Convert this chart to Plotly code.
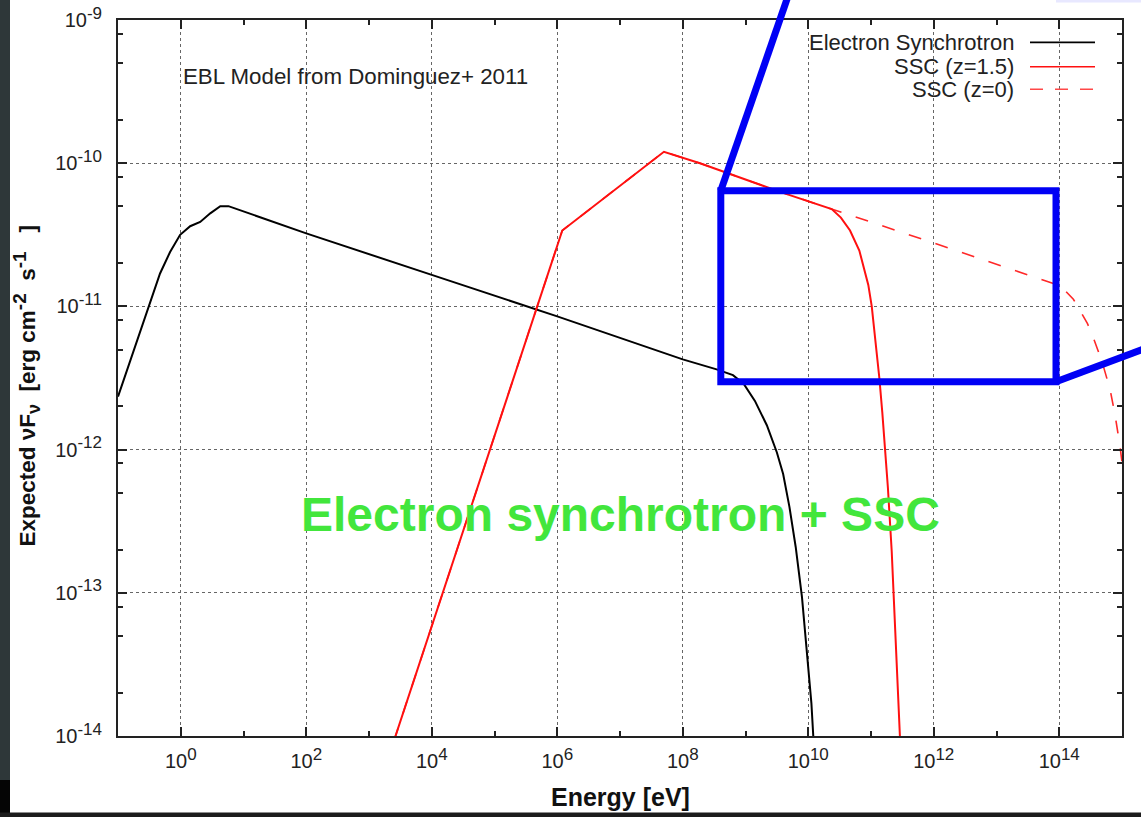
import plotly.graph_objects as go

# ---- data: log10(E / eV) and log10(nuF_nu / erg cm^-2 s^-1) ----
sync_log_e = [-1.0, -0.78, -0.60, -0.46, -0.33, -0.17, -0.01, 0.15, 0.31, 0.47,
              0.63, 0.76, 2.0, 4.0, 6.0, 8.0, 8.54, 8.80, 8.97, 9.15, 9.34, 9.50,
              9.60, 9.70, 9.80, 9.90, 9.98, 10.05, 10.08, 10.10]
sync_log_f = [-11.63, -11.35, -11.12, -10.93, -10.77, -10.62, -10.50, -10.44, -10.41, -10.35,
              -10.30, -10.30, -10.49, -10.78, -11.07, -11.37, -11.44, -11.48, -11.54, -11.66,
              -11.83, -12.02, -12.17, -12.40, -12.68, -13.03, -13.40, -13.77, -14.00, -14.18]

ssc15_log_e = [3.40, 4.0, 4.76, 6.08, 7.70, 8.275, 9.55, 10.374, 10.52, 10.666, 10.814,
               10.957, 11.012, 11.08, 11.133, 11.18, 11.224, 11.27, 11.33, 11.40, 11.463, 11.49]
ssc15_log_f = [-14.03, -13.23, -12.22, -10.47, -9.92, -10.00, -10.20, -10.32, -10.38, -10.47,
               -10.61, -10.85, -11.00, -11.26, -11.50, -11.74, -11.98, -12.27, -12.71, -13.37,
               -14.00, -14.29]

ssc0_log_e = [3.40, 4.0, 4.76, 6.08, 7.70, 8.275, 9.55, 10.374, 12.02, 13.906, 14.05,
              14.225, 14.359, 14.45, 14.544, 14.678, 14.81, 14.89, 14.969, 15.05]
ssc0_log_f = [-14.03, -13.23, -12.22, -10.47, -9.92, -10.00, -10.20, -10.32, -10.56, -10.84,
              -10.87, -10.95, -11.05, -11.12, -11.22, -11.38, -11.58, -11.76, -11.98, -12.26]

x_major_exp = list(range(0, 15, 2))
x_minor_exp = list(range(-1, 16, 2))
y_major_exp = list(range(-14, -8))
y_minor_mult = [2, 5, 8]

legend_names = ["Electron Synchrotron", "SSC (z=1.5)", "SSC (z=0)"]

FONT = "Liberation Sans, Arial, Helvetica, sans-serif"
W, H = 1141, 817
ML, MR, MT, MB = 118, 19, 20, 81
PW, PH = W - ML - MR, H - MT - MB


def px(x):
    return (x - ML) / PW


def py(y):
    return (H - MB - y) / PH


def pow_label(e):
    return f'10<sup><span style="font-size:17px">{e}</span></sup>'


def lin(vals):
    return [10 ** v for v in vals]


fig = go.Figure()
fig.add_trace(go.Scatter(x=lin(ssc0_log_e), y=lin(ssc0_log_f), mode="lines",
                         name=legend_names[2],
                         line=dict(color="#ff2828", width=1.6, dash="13px,15px")))
fig.add_trace(go.Scatter(x=lin(sync_log_e), y=lin(sync_log_f), mode="lines",
                         name=legend_names[0], line=dict(color="#000000", width=2)))
fig.add_trace(go.Scatter(x=lin(ssc15_log_e), y=lin(ssc15_log_f), mode="lines",
                         name=legend_names[1], line=dict(color="#ff1010", width=2)))

axis_common = dict(
    type="log", showline=True, linecolor="#222222", linewidth=2, mirror="allticks",
    ticks="inside", ticklen=9, tickwidth=1.6, tickcolor="#222222",
    showgrid=True, griddash="dot", gridcolor="#666666", gridwidth=1,
    tickfont=dict(family=FONT, size=20, color="#222222"),
    zeroline=False, automargin=False,
)

fig.update_xaxes(
    **axis_common, range=[-1, 15],
    tickmode="array", tickvals=[10 ** e for e in x_major_exp],
    ticktext=[pow_label(e) for e in x_major_exp],
    minor=dict(tickmode="array", tickvals=[10 ** e for e in x_minor_exp],
               ticks="inside", ticklen=5, tickwidth=1.6, tickcolor="#222222", showgrid=False),
    ticklabelstandoff=6,
)
fig.update_yaxes(
    **axis_common, range=[-14, -9],
    tickmode="array", tickvals=[10.0 ** e for e in y_major_exp],
    ticktext=[pow_label(e) for e in y_major_exp],
    minor=dict(tickmode="array",
               tickvals=[m * 10.0 ** e for e in y_major_exp[:-1] for m in y_minor_mult],
               ticks="inside", ticklen=5, tickwidth=1.6, tickcolor="#222222", showgrid=False),
    ticklabelstandoff=10,
)

shapes = []
annotations = []

# legend drawn as text + sample line, text right-aligned
legend_rows = [(42.4, "#000000", "solid"), (66.7, "#ff1010", "solid"), (89.3, "#ff4848", "13px,12px")]
for name, (yy, col, dash) in zip(legend_names, legend_rows):
    annotations.append(dict(x=px(1016), y=py(yy), xref="paper", yref="paper", text=name,
                            showarrow=False, xanchor="right", yanchor="middle",
                            font=dict(family=FONT, size=22, color="#222222")))
    shapes.append(dict(type="line", xref="paper", yref="paper", x0=px(1030), x1=px(1095),
                       y0=py(yy), y1=py(yy), line=dict(color=col, width=1.6, dash=dash)))

annotations.append(dict(x=px(181), y=py(76), xref="paper", yref="paper",
                        text="EBL Model from Dominguez+ 2011", showarrow=False,
                        xanchor="left", yanchor="middle",
                        font=dict(family=FONT, size=22.3, color="#222222")))

annotations.append(dict(x=px(620.4), y=py(514), xref="paper", yref="paper",
                        text="<b>Electron synchrotron + SSC</b>", showarrow=False,
                        xanchor="center", yanchor="middle",
                        font=dict(family=FONT, size=48, color="#42e63c")))

annotations.append(dict(x=px(620), y=py(797), xref="paper", yref="paper",
                        text="<b>Energy [eV]</b>", showarrow=False,
                        xanchor="center", yanchor="middle",
                        font=dict(family=FONT, size=25, color="#111111")))

ytitle = ('<b>Expected νF<sub><span style="font-size:18px">ν</span></sub>  [erg cm'
          '<sup><span style="font-size:19px">-2</span></sup>  s'
          '<sup><span style="font-size:19px">-1</span></sup>   ]</b>')
annotations.append(dict(x=px(26), y=py(386.5), xref="paper", yref="paper", textangle=-90,
                        text=ytitle, showarrow=False, xanchor="center", yanchor="middle",
                        font=dict(family=FONT, size=22.5, color="#111111")))

# blue zoom box with leader lines
BLUE = "#0000f5"
bx0, bx1, by0, by1 = 720.8, 1056.0, 190.7, 381.7
shapes.append(dict(type="rect", xref="paper", yref="paper", x0=px(bx0), x1=px(bx1),
                   y0=py(by0), y1=py(by1), line=dict(color=BLUE, width=7)))
shapes.append(dict(type="line", xref="paper", yref="paper", x0=px(bx0), y0=py(by0),
                   x1=px(793.6), y1=py(-20), line=dict(color=BLUE, width=7)))
shapes.append(dict(type="line", xref="paper", yref="paper", x0=px(bx1), y0=py(by1),
                   x1=px(1160), y1=py(342.9), line=dict(color=BLUE, width=7)))

# window frame edges
shapes.append(dict(type="rect", xref="paper", yref="paper", x0=px(-5), x1=px(10),
                   y0=py(-5), y1=py(780), line=dict(width=0), fillcolor="#2e3739"))
shapes.append(dict(type="rect", xref="paper", yref="paper", x0=px(-5), x1=px(10),
                   y0=py(780), y1=py(825), line=dict(width=0), fillcolor="#050505"))
shapes.append(dict(type="rect", xref="paper", yref="paper", x0=px(-5), x1=px(1150),
                   y0=py(812.5), y1=py(825), line=dict(width=0), fillcolor="#1c1c1c"))
shapes.append(dict(type="rect", xref="paper", yref="paper", x0=px(1056), x1=px(1150),
                   y0=py(-5), y1=py(2.5), line=dict(width=0), fillcolor="#e8e8ff"))

fig.update_layout(
    width=W, height=H, margin=dict(l=ML, r=MR, t=MT, b=MB, pad=0, autoexpand=False),
    paper_bgcolor="white", plot_bgcolor="white", showlegend=False,
    shapes=shapes, annotations=annotations,
    font=dict(family=FONT, color="#222222"),
)

fig.write_html("out.html")
